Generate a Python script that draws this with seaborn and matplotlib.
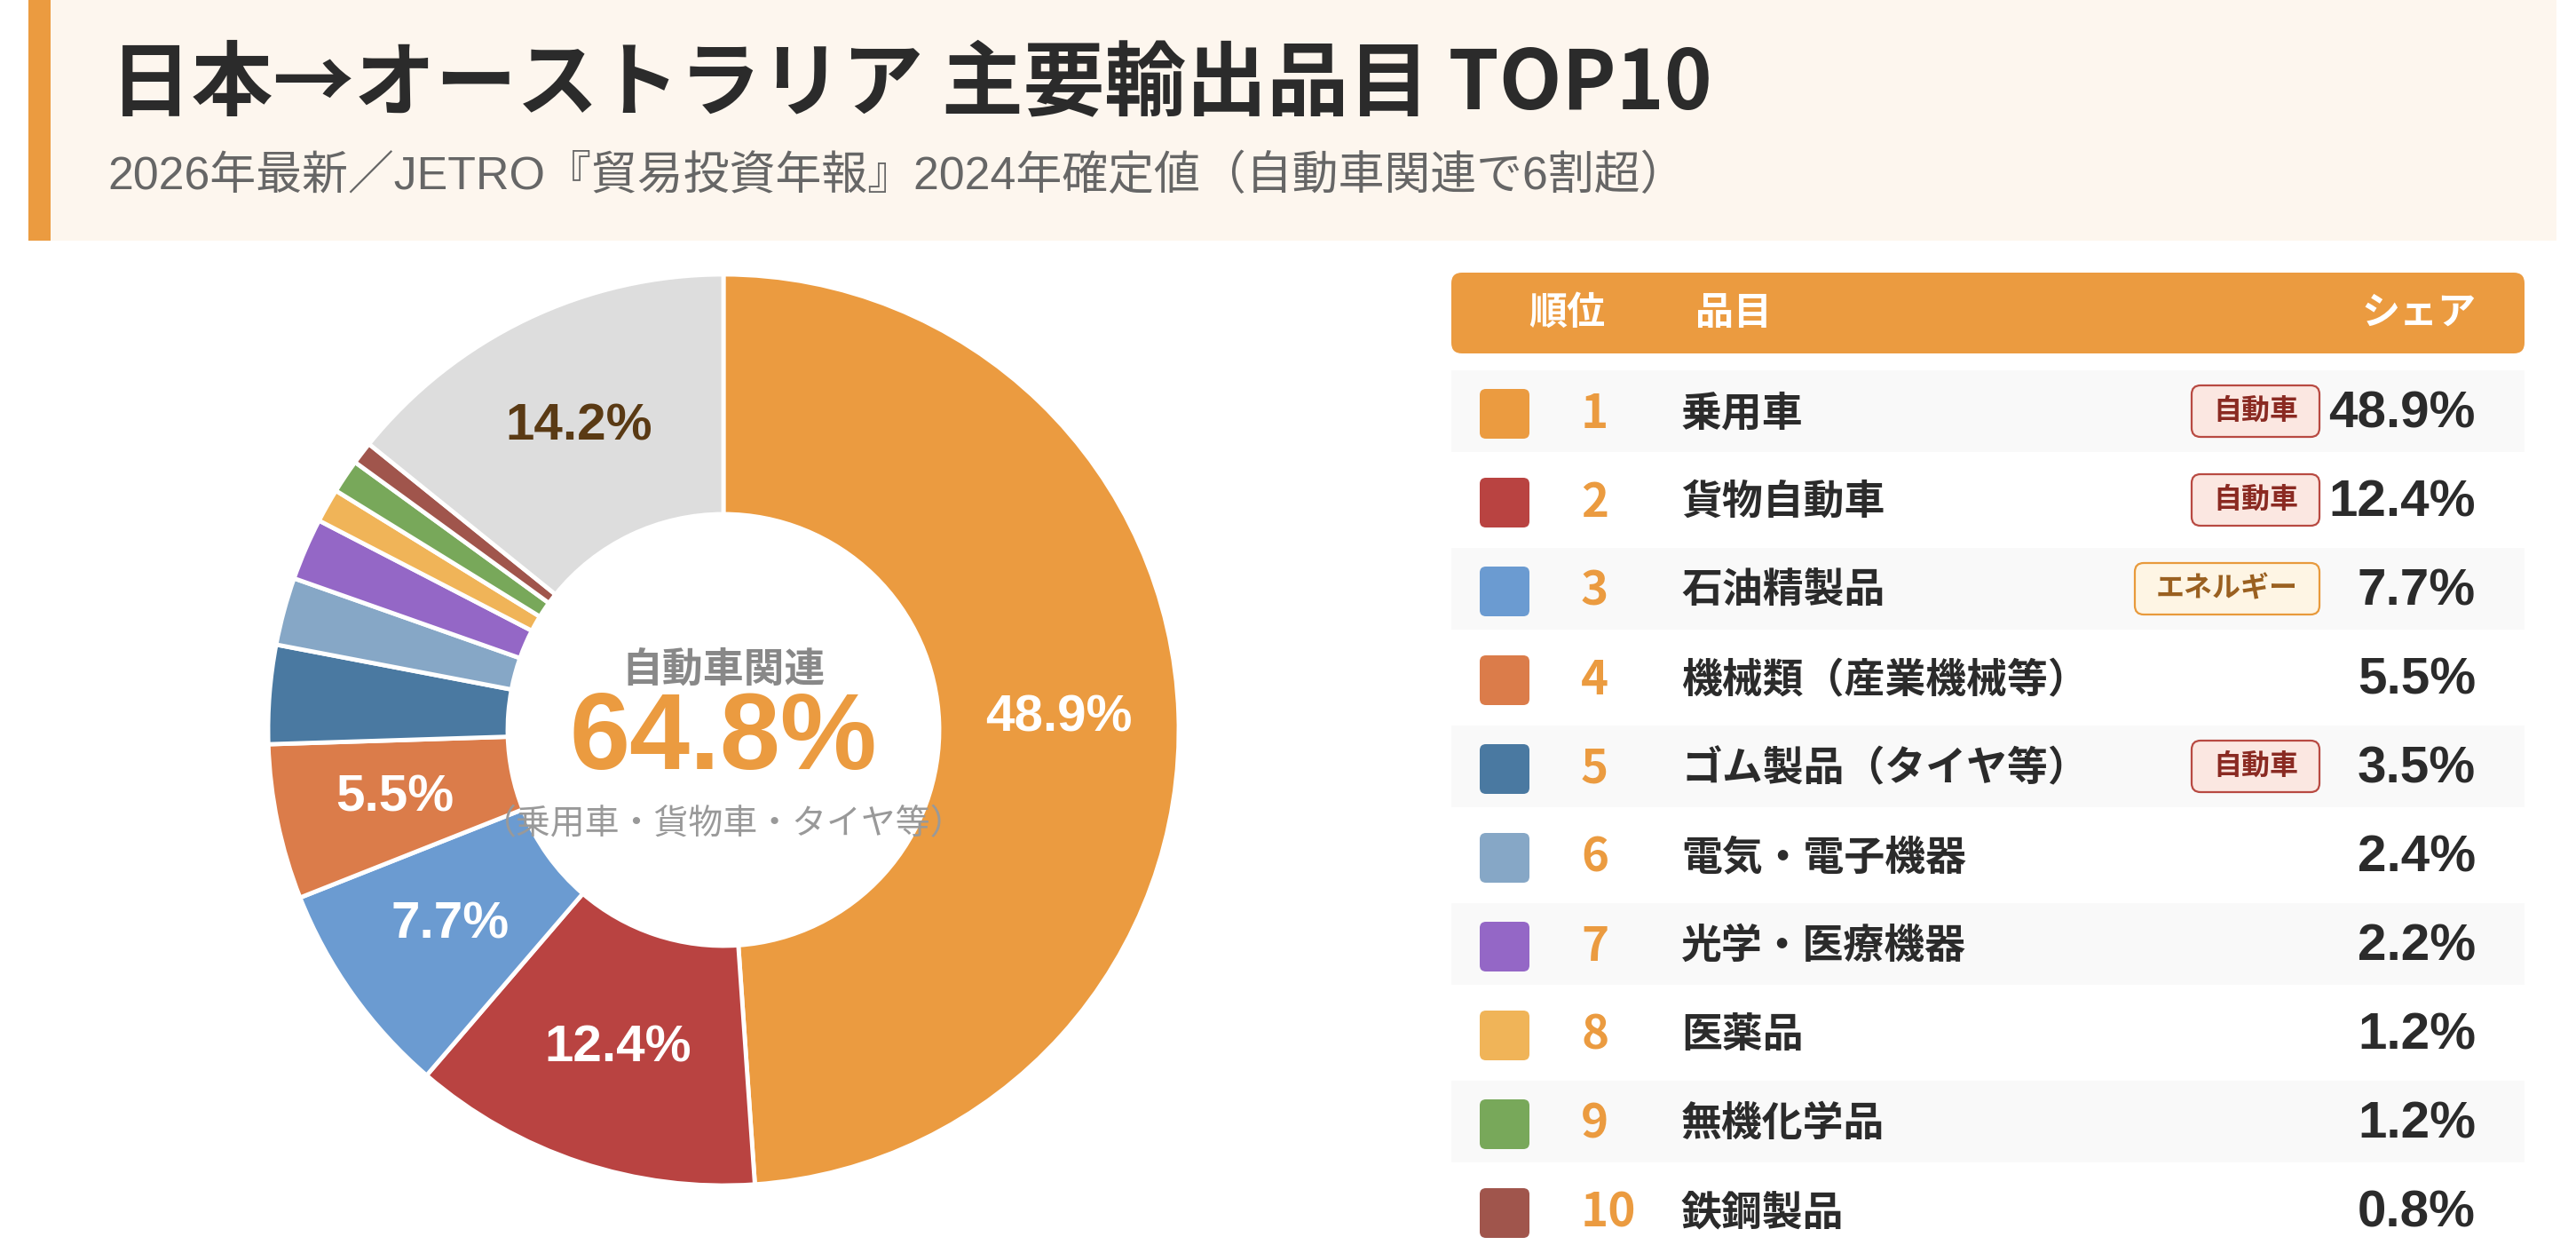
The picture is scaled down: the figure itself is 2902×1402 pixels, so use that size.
import numpy as np
import pandas as pd
import matplotlib
matplotlib.use("Agg")
import matplotlib.pyplot as plt
import seaborn as sns
from matplotlib.patches import FancyBboxPatch, Rectangle

# ---------------- data ----------------
ranks = [1, 2, 3, 4, 5, 6, 7, 8, 9, 10]
items = ["乗用車", "貨物自動車", "石油精製品", "機械類（産業機械等）", "ゴム製品（タイヤ等）",
         "電気・電子機器", "光学・医療機器", "医薬品", "無機化学品", "鉄鋼製品"]
shares = [48.9, 12.4, 7.7, 5.5, 3.5, 2.4, 2.2, 1.2, 1.2, 0.8]
tags = ["自動車", "自動車", "エネルギー", "", "自動車", "", "", "", "", ""]
item_colors = ["#EB9B40", "#B94341", "#6B9BD1", "#DB7C4A", "#4A79A1",
               "#86A7C6", "#9467C6", "#F0B458", "#78A85A", "#A0554C"]
other_label = "その他"
other_share = 14.2
other_color = "#DDDDDD"

title = "日本→オーストラリア 主要輸出品目 TOP10"
subtitle = "2026年最新／JETRO『貿易投資年報』2024年確定値（自動車関連で6割超）"
center_label = "自動車関連"
center_note = "（乗用車・貨物車・タイヤ等）"
header_labels = ["順位", "品目", "シェア"]

df = pd.DataFrame({"rank": ranks, "item": items, "share": shares, "tag": tags, "color": item_colors})
pie_values = shares + [other_share]
pie_colors = item_colors + [other_color]
auto_total = df.loc[df["tag"] == "自動車", "share"].sum()

# ---------------- style ----------------
sns.set_theme(style="white")
plt.rcParams["font.family"] = ["Noto Sans CJK JP", "DejaVu Sans"]
NUM_FONT = ["Liberation Sans", "Noto Sans CJK JP"]

W, H = 2902, 1402
fig = plt.figure(figsize=(W / 100, H / 100), dpi=100)
fig.patch.set_facecolor("white")

ax = fig.add_axes([0, 0, 1, 1], zorder=0)
ax.set_xlim(0, W)
ax.set_ylim(H, 0)
ax.axis("off")

ORANGE = "#EB9B40"
DARK = "#2B2B2B"

# header band
ax.add_patch(Rectangle((32, 0), 2848, 271, facecolor="#FDF6EE", edgecolor="none"))
ax.add_patch(Rectangle((32, 0), 25, 271, facecolor=ORANGE, edgecolor="none"))
ax.text(124, 95, title, fontsize=66, fontweight="bold", color=DARK, ha="left", va="center")
ax.text(121, 199, subtitle, fontsize=37.4, color="#666666", ha="left", va="center", family=NUM_FONT)

# ---------------- table ----------------
TX0, TX1 = 1635, 2844
ax.add_patch(FancyBboxPatch((TX0, 307), TX1 - TX0, 91,
                            boxstyle="round,pad=0,rounding_size=12",
                            facecolor=ORANGE, edgecolor="none"))
ax.text(1765, 352, header_labels[0], fontsize=31, fontweight="bold", color="white", ha="center", va="center")
ax.text(1910, 352, header_labels[1], fontsize=31, fontweight="bold", color="white", ha="left", va="center")
ax.text(2789, 352, header_labels[2], fontsize=31, fontweight="bold", color="white", ha="right", va="center")

tag_styles = {
    "自動車": dict(fc="#FBE7E1", ec="#B84A42", tc="#8A2A22"),
    "エネルギー": dict(fc="#FEF5E4", ec="#E89A3C", tc="#9A6020"),
}

renderer = fig.canvas.get_renderer()
ROW0, PITCH = 466, 100
for i, row in df.iterrows():
    y = ROW0 + PITCH * i
    if i % 2 == 0:
        ax.add_patch(Rectangle((TX0, y - 49), TX1 - TX0, 92, facecolor="#F9F9F9", edgecolor="none"))
    ax.add_patch(FancyBboxPatch((1667, y - 28), 56, 56, boxstyle="round,pad=0,rounding_size=7",
                                facecolor=row["color"], edgecolor="none"))
    ax.text(1781, y, str(row["rank"]), fontsize=38, fontweight="bold", color=ORANGE, ha="left", va="center")
    ax.text(1894, y, row["item"], fontsize=33, fontweight="bold", color=DARK, ha="left", va="center")
    ax.text(2789, y, f"{row['share']:.1f}%", fontsize=42, fontweight="bold", color=DARK,
            ha="right", va="center", family=NUM_FONT)
    if row["tag"]:
        st = tag_styles[row["tag"]]
        bx1 = 2613
        pad = 24
        t = ax.text(bx1 - pad, y - 3, row["tag"], fontsize=23, fontweight="bold", color=st["tc"],
                    ha="right", va="center", zorder=4)
        bb = t.get_window_extent(renderer)
        tw = bb.width
        ax.add_patch(FancyBboxPatch((bx1 - pad * 2 - tw, y - 32), tw + pad * 2, 58,
                                    boxstyle="round,pad=0,rounding_size=10",
                                    facecolor=st["fc"], edgecolor=st["ec"], linewidth=1.6, zorder=3))

# ---------------- donut ----------------
CX, CY, R, RI = 815, 822, 513, 243
axp = fig.add_axes([(CX - R) / W, (H - CY - R) / H, 2 * R / W, 2 * R / H], zorder=2)


def pct_fmt(p):
    return f"{p:.1f}%" if p >= 5 else ""


wedges, texts, autotexts = axp.pie(
    pie_values, colors=pie_colors, startangle=90, counterclock=False, radius=1,
    wedgeprops=dict(width=1 - RI / R, edgecolor="white", linewidth=3.5),
    autopct=pct_fmt, pctdistance=(R + RI) / 2 / R,
    textprops=dict(color="white", fontsize=42, fontweight="bold", family=NUM_FONT),
)
autotexts[-1].set_color("#5A3A14")
axp.set_xlim(-1, 1)
axp.set_ylim(-1, 1)
axp.axis("off")

axp.text(0, (CY - 755) / R, center_label, fontsize=33, fontweight="bold", color="#888888",
         ha="center", va="center")
axp.text(0, (CY - 834) / R, f"{auto_total:.1f}%", fontsize=88, fontweight="bold", color=ORANGE,
         ha="center", va="center", family=NUM_FONT)
axp.text(0, (CY - 928) / R, center_note, fontsize=28, color="#999999", ha="center", va="center")

fig.savefig("out.png", dpi=100, facecolor="white")
